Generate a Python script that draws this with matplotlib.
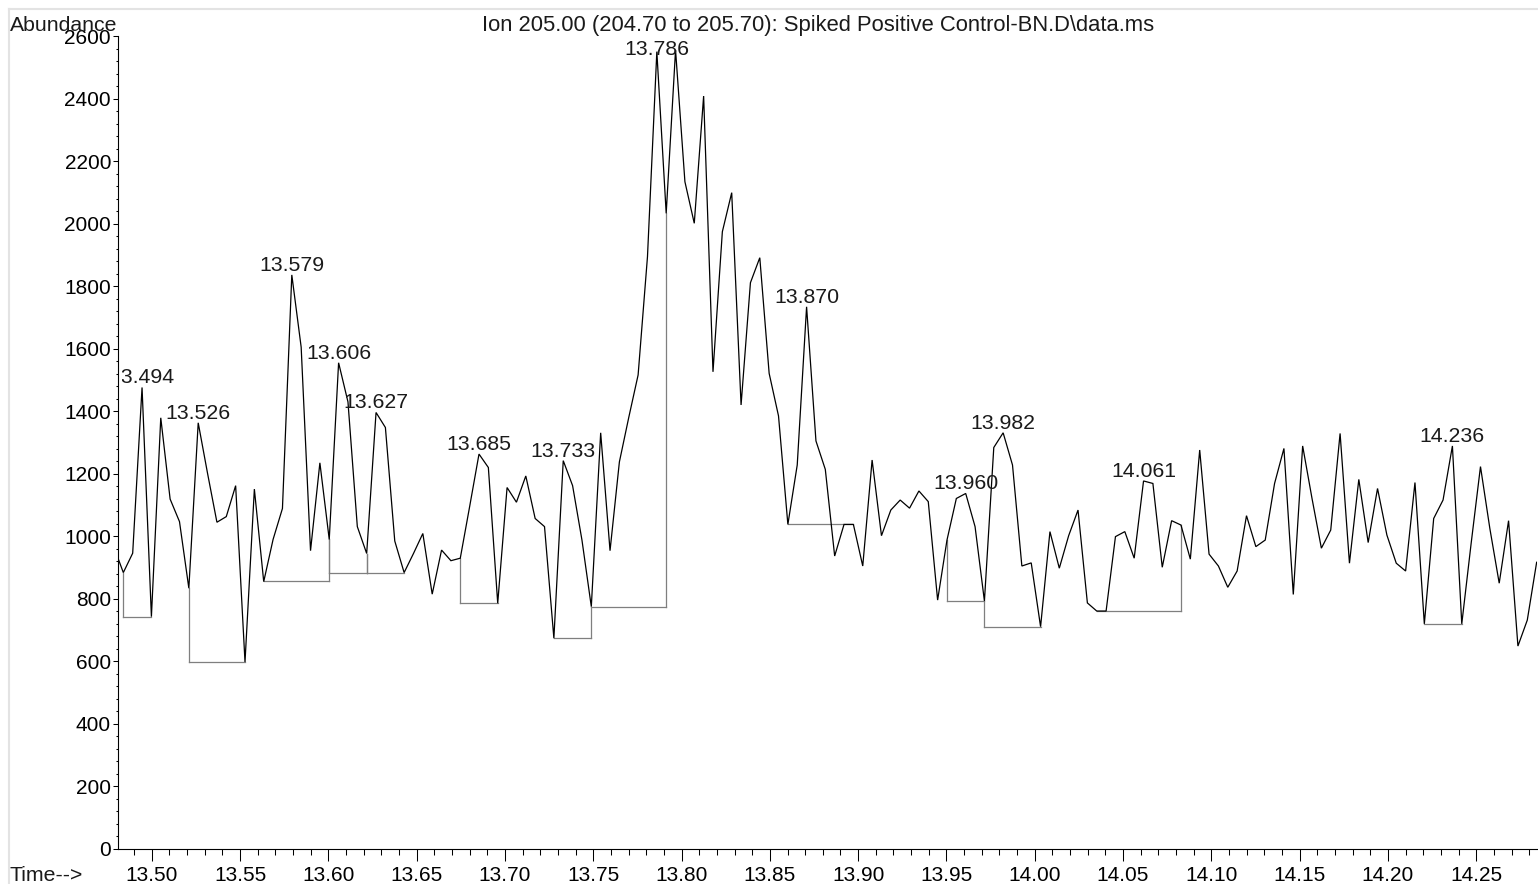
import numpy as np
import matplotlib
matplotlib.use("Agg")
import matplotlib.pyplot as plt
from matplotlib.ticker import MultipleLocator, FormatStrFormatter
from matplotlib.lines import Line2D
from matplotlib.transforms import Bbox, TransformedBbox

# ---------------- data ----------------
scan_start = 13.4786      # min, first scan shown
scan_step = 0.0053        # min between scans
abundance = [
    965, 884, 946, 1476, 743, 1379, 1119, 1047, 834, 1363,
    1201, 1045, 1063, 1162, 598, 1151, 855, 990, 1089, 1836,
    1605, 954, 1235, 990, 1555, 1430, 1031, 945, 1396, 1348,
    985, 884, 945, 1009, 815, 956, 922, 930, 1095, 1263,
    1220, 786, 1156, 1109, 1193, 1057, 1031, 674, 1242, 1162,
    988, 775, 1331, 954, 1238, 1380, 1516, 1894, 2550, 2033,
    2555, 2134, 2001, 2408, 1526, 1974, 2099, 1420, 1811, 1891,
    1521, 1385, 1038, 1228, 1734, 1305, 1214, 937, 1038, 1038,
    905, 1244, 1002, 1084, 1116, 1090, 1145, 1111, 796, 988,
    1121, 1137, 1031, 793, 1284, 1331, 1228, 905, 915, 711,
    1015, 898, 1002, 1084, 787, 761, 761, 999, 1015, 930,
    1177, 1169, 901, 1050, 1036, 927, 1276, 943, 905, 837,
    889, 1066, 967, 988, 1169, 1281, 814, 1289, 1121, 962,
    1020, 1329, 914, 1182, 980, 1153, 1004, 914, 889, 1172,
    720, 1057, 1116, 1289, 720, 977, 1223, 1025, 850, 1050,
    649, 732, 917,
]
peak_labels = ["13.494", "13.526", "13.579", "13.606", "13.627", "13.685",
               "13.733", "13.786", "13.870", "13.960", "13.982", "14.061",
               "14.236"]
# integration baselines: start time, end time, baseline level
bl_start = [13.4839, 13.5210, 13.5634, 13.6005, 13.6217, 13.6747, 13.7277,
            13.7489, 13.8602, 13.9503, 13.9715, 14.0351, 14.2206]
bl_end = [13.4998, 13.5528, 13.6005, 13.6217, 13.6429, 13.6959, 13.7489,
          13.7913, 13.8973, 13.9715, 14.0033, 14.0828, 14.2418]
bl_level = [743, 598, 856, 883, 883, 786, 674, 775, 1038, 793, 711, 761, 720]

title = "Ion 205.00 (204.70 to 205.70): Spiked Positive Control-BN.D\\data.ms"
y_label = "Abundance"
x_label = "Time-->"

# ---------------- figure ----------------
W, H = 1538, 884
plt.rcParams['font.family'] = ['Liberation Sans', 'DejaVu Sans']
FS_TICK = 15
FS_LAB = 15.3
FS_TITLE = 15.8
fig = plt.figure(figsize=(W / 100, H / 100), dpi=100)
fig.patch.set_facecolor('white')

x0, x1, ytop, ybot = 117.5, 1537, 36, 849
ax = fig.add_axes([x0 / W, 1 - ybot / H, (x1 - x0) / W, (ybot - ytop) / H])
ax.set_facecolor('white')

times = scan_start + scan_step * np.arange(len(abundance))
vals = np.array(abundance, dtype=float)

ax.plot(times, vals, color='black', lw=0.9, solid_joinstyle='miter', zorder=3)


def idx_of(t):
    return int(np.argmin(np.abs(times - t)))


for ts, te, lev in zip(bl_start, bl_end, bl_level):
    i0, i1 = idx_of(ts), idx_of(te)
    ax.plot([times[i0], times[i1]], [lev, lev], color='#7f7f7f', lw=0.9, zorder=2)
    for i in (i0, i1):
        if abs(vals[i] - lev) > 1:
            ax.plot([times[i], times[i]], [lev, vals[i]], color='#7f7f7f',
                    lw=0.9, zorder=2)

ax.set_xlim(13.4806, 14.2844)
ax.set_ylim(0, 2600)

# peak labels
px_per_unit = (ybot - ytop) / 2600.0
clip = TransformedBbox(Bbox([[13.4832, 0], [14.2844, 2700]]), ax.transData)
for lab in peak_labels:
    i = idx_of(float(lab))
    v = vals[i]
    yb = v + 4 / px_per_unit
    ymax = 2600 - 19 / px_per_unit
    yb = min(yb, ymax)
    t = ax.text(times[i], yb, lab, ha='center', va='baseline', fontsize=FS_LAB,
                color='#1a1a1a', zorder=4)
    t.set_clip_box(clip)
    t.set_clip_on(True)

for s in ('top', 'right'):
    ax.spines[s].set_visible(False)
for s in ('left', 'bottom'):
    ax.spines[s].set_linewidth(0.8)
    ax.spines[s].set_color('black')

ax.xaxis.set_major_locator(MultipleLocator(0.05))
ax.xaxis.set_minor_locator(MultipleLocator(0.01))
ax.xaxis.set_major_formatter(FormatStrFormatter('%.2f'))
ax.yaxis.set_major_locator(MultipleLocator(200))
ax.yaxis.set_minor_locator(MultipleLocator(40))
ax.yaxis.set_major_formatter(FormatStrFormatter('%d'))

ax.tick_params(axis='x', which='major', direction='out', length=8.6, width=0.75,
               labelsize=FS_TICK, pad=3.5, colors='black')
ax.tick_params(axis='x', which='minor', direction='out', length=4.3, width=0.75)
ax.tick_params(axis='y', which='major', direction='out', length=3.6, width=0.75,
               labelsize=FS_TICK, pad=1.0, colors='black')
ax.tick_params(axis='y', which='minor', direction='out', length=1.8, width=0.75)

# texts
fig.text(10 / W, 1 - 31 / H, y_label, ha='left', va='baseline', fontsize=FS_LAB,
         color='#1a1a1a')
fig.text(818 / W, 1 - 31 / H, title, ha='center', va='baseline', fontsize=FS_TITLE,
         color='#1a1a1a')
fig.text(10 / W, 1 - 881 / H, x_label, ha='left', va='baseline', fontsize=FS_LAB,
         color='#1a1a1a')

# light frame at top/left of the panel
fig.add_artist(Line2D([9 / W, 9 / W], [0, 1 - 9 / H], transform=fig.transFigure,
                      color='#e3e3e3', lw=1.5))
fig.add_artist(Line2D([9 / W, 1], [1 - 9 / H, 1 - 9 / H], transform=fig.transFigure,
                      color='#e3e3e3', lw=1.5))

fig.savefig('out.png', dpi=100, facecolor='white')
